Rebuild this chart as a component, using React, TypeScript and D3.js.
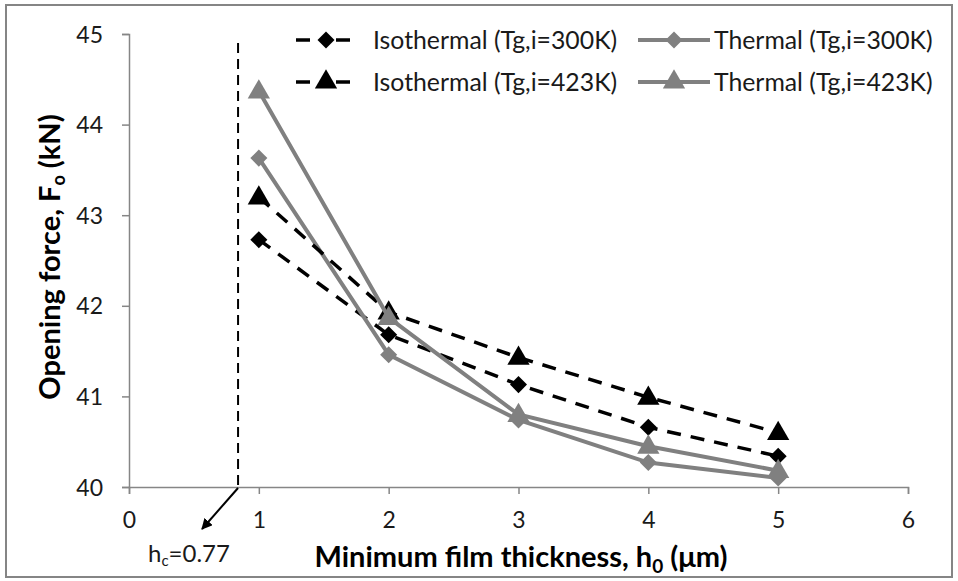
import React, { useEffect, useRef } from "react";
import * as d3 from "d3";

const thickness = [1, 2, 3, 4, 5];
const isothermal300 = [42.73, 41.68, 41.13, 40.66, 40.34];
const thermal300 = [43.63, 41.46, 40.74, 40.27, 40.1];
const isothermal423 = [43.2, 41.93, 41.43, 40.99, 40.6];
const thermal423 = [44.37, 41.87, 40.8, 40.45, 40.18];
const xTicks = [0, 1, 2, 3, 4, 5, 6];
const yTicks = [40, 41, 42, 43, 44, 45];
const criticalThickness = 0.84; // where the dashed line sits in the picture
const criticalLabel = "0.77";

const series = [
  { name: "Isothermal (Tg,i=300K)", values: isothermal300, color: "#000", dashed: true, shape: "diamond" },
  { name: "Thermal (Tg,i=300K)", values: thermal300, color: "#808080", dashed: false, shape: "diamond" },
  { name: "Isothermal (Tg,i=423K)", values: isothermal423, color: "#000", dashed: true, shape: "triangle" },
  { name: "Thermal (Tg,i=423K)", values: thermal423, color: "#808080", dashed: false, shape: "triangle" },
];

const width = 958;
const height = 581;
const margin = { top: 34, right: 50, bottom: 94, left: 129 };
const font = "Lato, 'Open Sans', sans-serif";

export default function App() {
  const ref = useRef<SVGGElement>(null);

  useEffect(() => {
    const svg = d3.select(ref.current);
    svg.selectAll("*").remove();

    const x = d3.scaleLinear().domain([0, 6]).range([margin.left, width - margin.right]);
    const y = d3.scaleLinear().domain([40, 45]).range([height - margin.bottom, margin.top]);

    const xAxis = d3.axisBottom(x).tickValues(xTicks).tickSize(7).tickPadding(18).tickFormat(d3.format("d"));
    const yAxis = d3.axisLeft(y).tickValues(yTicks).tickSize(7).tickPadding(19).tickFormat(d3.format("d"));

    const gx = svg.append("g").attr("transform", `translate(0,${y(40)})`).call(xAxis);
    const gy = svg.append("g").attr("transform", `translate(${x(0)},0)`).call(yAxis);
    [gx, gy].forEach((g) => {
      g.select(".domain").attr("stroke", "#868686").attr("stroke-width", 1.5);
      g.selectAll(".tick line").attr("stroke", "#868686").attr("stroke-width", 1.5);
      g.selectAll(".tick text").attr("fill", "#1a1a1a").attr("font-family", font).attr("font-size", 23);
    });
    gy.selectAll(".tick text").attr("dy", "0.35em");

    // critical film thickness marker
    svg
      .append("line")
      .attr("x1", x(criticalThickness))
      .attr("x2", x(criticalThickness))
      .attr("y1", 43)
      .attr("y2", y(40))
      .attr("stroke", "#000")
      .attr("stroke-width", 2)
      .attr("stroke-dasharray", "10,6");

    svg
      .append("defs")
      .append("marker")
      .attr("id", "arrow")
      .attr("viewBox", "0 0 10 10")
      .attr("refX", 9)
      .attr("refY", 5)
      .attr("markerWidth", 5.5)
      .attr("markerHeight", 5.5)
      .attr("orient", "auto")
      .append("path")
      .attr("d", "M0,0L10,5L0,10z")
      .attr("fill", "#000");

    svg
      .append("line")
      .attr("x1", x(criticalThickness))
      .attr("y1", y(40) + 1)
      .attr("x2", x(criticalThickness) - 36)
      .attr("y2", y(40) + 42)
      .attr("stroke", "#000")
      .attr("stroke-width", 2)
      .attr("marker-end", "url(#arrow)");

    const hc = svg
      .append("text")
      .attr("x", 148)
      .attr("y", 562)
      .attr("font-family", font)
      .attr("font-size", 24)
      .attr("fill", "#1a1a1a");
    hc.append("tspan").text("h");
    hc.append("tspan").attr("font-size", 15).attr("dy", 4).text("c");
    hc.append("tspan").attr("dy", -4).text("=" + criticalLabel);

    const diamond = d3.symbol().type(d3.symbolDiamond2).size(185);
    const triangle = d3.symbol().type(d3.symbolTriangle).size(215);
    const line = d3
      .line<number>()
      .x((d, i) => x(thickness[i]))
      .y((d) => y(d));

    series.forEach((s) => {
      const g = svg.append("g");
      g.append("path")
        .attr("d", line(s.values))
        .attr("fill", "none")
        .attr("stroke", s.color)
        .attr("stroke-width", s.dashed ? 3.5 : 4)
        .attr("stroke-dasharray", s.dashed ? "14,10" : null);
      g.selectAll("path.pt")
        .data(s.values)
        .enter()
        .append("path")
        .attr("class", "pt")
        .attr("d", s.shape === "diamond" ? diamond() : triangle())
        .attr("transform", (d, i) => `translate(${x(thickness[i])},${y(d) + (s.shape === "triangle" ? 1 : 0)})`)
        .attr("fill", s.color);
    });

    // legend, two columns by two rows
    const legend = svg.append("g").attr("font-family", font).attr("font-size", 24.8).attr("fill", "#1a1a1a");
    series.forEach((s, i) => {
      const col = i % 2;
      const row = Math.floor(i / 2);
      const lx = col === 0 ? 296 : 638;
      const len = col === 0 ? 54 : 72;
      const ly = 40 + row * 42;
      const item = legend.append("g");
      item
        .append("line")
        .attr("x1", lx)
        .attr("x2", lx + len)
        .attr("y1", ly)
        .attr("y2", ly)
        .attr("stroke", s.color)
        .attr("stroke-width", s.dashed ? 3.5 : 4)
        .attr("stroke-dasharray", s.dashed ? "14,26" : null);
      item
        .append("path")
        .attr("d", s.shape === "diamond" ? diamond() : triangle())
        .attr("transform", `translate(${lx + (col === 0 ? 30 : len / 2)},${ly})`)
        .attr("fill", s.color);
      item
        .append("text")
        .attr("x", col === 0 ? 373 : 714)
        .attr("y", ly)
        .attr("dy", "0.35em")
        .text(s.name);
    });

    // axis titles
    const xt = svg
      .append("text")
      .attr("x", 521)
      .attr("y", 567)
      .attr("text-anchor", "middle")
      .attr("font-family", font)
      .attr("font-size", 29)
      .attr("font-weight", "bold")
      .attr("fill", "#000");
    xt.append("tspan").text("Minimum film thickness, h");
    xt.append("tspan").attr("font-size", 19).attr("dy", 6).text("0");
    xt.append("tspan").attr("dy", -6).text(" (μm)");

    const yt = svg
      .append("text")
      .attr("transform", `translate(60,257) rotate(-90)`)
      .attr("text-anchor", "middle")
      .attr("font-family", font)
      .attr("font-size", 29)
      .attr("font-weight", "bold")
      .attr("fill", "#000");
    yt.append("tspan").text("Opening force, F");
    yt.append("tspan").attr("font-size", 18).attr("dy", 5).text("o");
    yt.append("tspan").attr("dy", -5).text(" (kN)");
  }, []);

  return (
    <svg width={width} height={height} style={{ display: "block", position: "absolute", left: 0, top: 0 }}>
      <rect x={6} y={5} width={946} height={572} fill="white" stroke="#858585" strokeWidth={2} />
      <g ref={ref}></g>
    </svg>
  );
}
